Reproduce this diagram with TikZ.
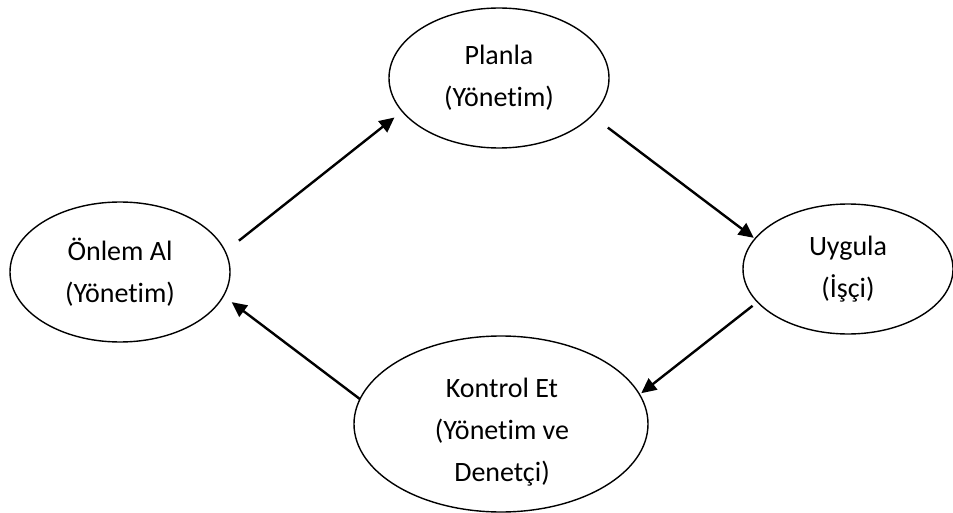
\documentclass[tikz,border=0pt]{standalone}
\usepackage{fontspec}
\setmainfont{Carlito}[Ligatures=NoCommon]
\usetikzlibrary{shapes.geometric,arrows.meta}
\begin{document}
\begin{tikzpicture}[x=1pt,y=-1pt,
  ell/.style={ellipse,draw,line width=1.4pt,outer sep=0pt,inner sep=0pt,align=center,font=\fontsize{28}{42}\selectfont},
  txt/.style={inner sep=0pt,align=center,font=\fontsize{28}{42}\selectfont},
  arr/.style={line width=2.4pt,-{Triangle[length=15pt,width=14pt]}}]
\useasboundingbox (0,0) rectangle (953,513);
\node[ell,minimum width=220pt,minimum height=140pt] (planla) at (499,78) {Planla\\(Yönetim)};
\node[ell,minimum width=210pt,minimum height=130pt] (uygula) at (848,269) {Uygula\\(İşçi)};
\node[ell,minimum width=220pt,minimum height=140pt] (onlem) at (120,272) {Önlem Al\\(Yönetim)};
\node[ell,minimum width=294pt,minimum height=176pt] (kontrol) at (501,424) {};
\node[txt] (kontroltext) at (502,432) {Kontrol Et\\(Yönetim ve\\Denetçi)};
\draw[arr,shorten <=17.5pt,shorten >=10pt] (onlem.11.9) -- (planla.199.6);
\draw[arr,shorten <=20pt,shorten >=1.6pt] (planla.338.3) -- (uygula.162.35);
\draw[arr,shorten <=6.3pt,shorten >=2.2pt] (uygula.200.7) -- (kontrol.12.2);
\draw[arr,shorten <=0pt,shorten >=10.4pt] (kontrol.170.3) -- (onlem.347.7);
\end{tikzpicture}
\end{document}
